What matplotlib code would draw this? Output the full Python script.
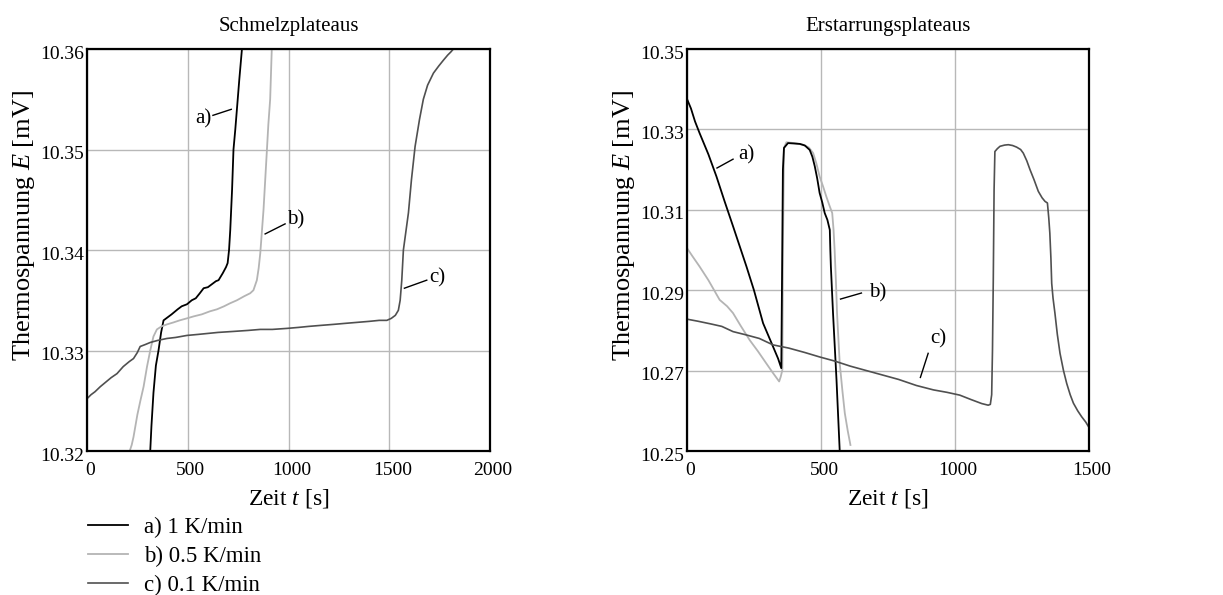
import matplotlib
matplotlib.use("Agg")
import matplotlib.pyplot as plt
import matplotlib.transforms as mtransforms

# ---- data ----
# Schmelzplateaus (melting)
melt_a_t = [314, 320, 330, 342, 355, 368, 380, 400, 420, 450, 470, 496, 520, 540, 560, 579, 600, 620,
            640, 653, 674, 690, 698, 705, 711, 720, 727, 736, 744, 756, 769]
melt_a_E = [10.3200, 10.3225, 10.3258, 10.3285, 10.3300, 10.3318, 10.3330, 10.3333, 10.3336, 10.3341,
            10.3344, 10.3346, 10.3350, 10.3352, 10.3357, 10.3362, 10.3363, 10.3366, 10.3369, 10.3370,
            10.3377, 10.3383, 10.3387, 10.3400, 10.3420, 10.3460, 10.3500, 10.3520, 10.3540, 10.3570,
            10.3600]

melt_b_t = [212, 222, 231, 250, 265, 281, 298, 314, 330, 347, 370, 397, 430, 460, 496, 530, 570, 610,
            645, 680, 710, 744, 780, 810, 826, 843, 852, 860, 876, 893, 900, 909, 917]
melt_b_E = [10.3200, 10.3206, 10.3214, 10.3236, 10.3250, 10.3264, 10.3284, 10.3300, 10.3314, 10.3321,
            10.3324, 10.3326, 10.3328, 10.3330, 10.3332, 10.3334, 10.3336, 10.3339, 10.3341, 10.3344,
            10.3347, 10.3350, 10.3354, 10.3357, 10.3360, 10.3370, 10.3382, 10.3397, 10.3440, 10.3500,
            10.3525, 10.3550, 10.3600]

melt_c_t = [0, 20, 40, 66, 90, 120, 149, 180, 210, 231, 250, 264, 290, 314, 350, 397, 440, 496, 550,
            600, 650, 727, 800, 860, 920, 992, 1050, 1100, 1160, 1223, 1280, 1340, 1400, 1450, 1488,
            1510, 1530, 1545, 1554, 1562, 1570, 1595, 1610, 1628, 1650, 1669, 1690, 1719, 1745, 1769,
            1790, 1805, 1818]
melt_c_E = [10.3252, 10.3256, 10.3259, 10.3264, 10.3268, 10.3273, 10.3277, 10.3284, 10.3289, 10.3292,
            10.3298, 10.3304, 10.3306, 10.3308, 10.3310, 10.3312, 10.3313, 10.3315, 10.3316, 10.3317,
            10.3318, 10.3319, 10.3320, 10.3321, 10.3321, 10.3322, 10.3323, 10.3324, 10.3325, 10.3326,
            10.3327, 10.3328, 10.3329, 10.3330, 10.3330, 10.3332, 10.3335, 10.3340, 10.3350, 10.3370,
            10.3400, 10.3437, 10.3470, 10.3503, 10.3530, 10.3550, 10.3564, 10.3576, 10.3583, 10.3589,
            10.3594, 10.3597, 10.3600]

# Erstarrungsplateaus (freezing)
frz_a_t = [0, 15, 30, 47, 80, 110, 140, 172, 200, 222, 250, 284, 321, 340, 352, 355, 358, 362, 377,
           400, 421, 440, 458, 468, 477, 486, 495, 505, 514, 524, 533, 535, 537, 545, 558, 570]
frz_a_E = [10.3376, 10.3352, 10.3320, 10.3291, 10.3238, 10.3183, 10.3122, 10.3059, 10.3003, 10.2959,
           10.2900, 10.2818, 10.2760, 10.2730, 10.2706, 10.2950, 10.3200, 10.3254, 10.3266, 10.3265,
           10.3264, 10.3260, 10.3249, 10.3232, 10.3208, 10.3178, 10.3142, 10.3118, 10.3092, 10.3075,
           10.3050, 10.3000, 10.2959, 10.2843, 10.2677, 10.2500]

frz_b_t = [0, 20, 47, 80, 122, 150, 172, 200, 234, 265, 296, 320, 344, 350, 356, 358, 362, 371, 400,
           433, 455, 471, 483, 495, 508, 520, 531, 542, 547, 551, 556, 560, 565, 570, 580, 589, 600, 610]
frz_b_E = [10.3005, 10.2985, 10.2959, 10.2925, 10.2876, 10.2860, 10.2843, 10.2812, 10.2776, 10.2748,
           10.2718, 10.2695, 10.2673, 10.2685, 10.2702, 10.3000, 10.3254, 10.3268, 10.3266, 10.3262,
           10.3255, 10.3241, 10.3215, 10.3183, 10.3158, 10.3133, 10.3112, 10.3092, 10.3050, 10.3000,
           10.2920, 10.2843, 10.2780, 10.2718, 10.2650, 10.2594, 10.2550, 10.2515]

frz_c_t = [0, 40, 90, 130, 172, 220, 270, 321, 380, 440, 495, 550, 610, 670, 730, 790, 856, 920, 970,
           1018, 1060, 1100, 1124, 1132, 1137, 1140, 1143, 1146, 1149, 1158, 1168, 1185, 1199, 1215,
           1230, 1245, 1255, 1268, 1280, 1295, 1311, 1325, 1336, 1345, 1350, 1354, 1358, 1361, 1366,
           1373, 1382, 1392, 1405, 1417, 1430, 1442, 1458, 1473, 1488, 1498]
frz_c_E = [10.2828, 10.2823, 10.2816, 10.2810, 10.2797, 10.2789, 10.2780, 10.2764, 10.2756, 10.2745,
           10.2734, 10.2724, 10.2711, 10.2700, 10.2689, 10.2678, 10.2663, 10.2652, 10.2646, 10.2639,
           10.2628, 10.2618, 10.2614, 10.2616, 10.2640, 10.2750, 10.2926, 10.3150, 10.3245, 10.3252,
           10.3258, 10.3261, 10.3262, 10.3260, 10.3256, 10.3250, 10.3241, 10.3222, 10.3200, 10.3175,
           10.3146, 10.3130, 10.3121, 10.3117, 10.3080, 10.3042, 10.2980, 10.2917, 10.2880, 10.2843,
           10.2790, 10.2743, 10.2700, 10.2668, 10.2640, 10.2619, 10.2600, 10.2585, 10.2572, 10.2561]

legend_labels = ["a) 1 K/min", "b) 0.5 K/min", "c) 0.1 K/min"]
melt_xticks = [0, 500, 1000, 1500, 2000]
melt_yticks = [10.32, 10.33, 10.34, 10.35, 10.36]
frz_xticks = [0, 500, 1000, 1500]
frz_yticks = [10.25, 10.27, 10.29, 10.31, 10.33, 10.35]

# ---- style ----
plt.rcParams['font.family'] = ['Liberation Serif', 'DejaVu Serif']
plt.rcParams['mathtext.fontset'] = 'custom'
plt.rcParams['mathtext.rm'] = 'Liberation Serif'
plt.rcParams['mathtext.it'] = 'Liberation Serif:italic'

col_a = '#000000'
col_b = '#b4b4b4'
col_c = '#505050'
grid_col = '#b8b8b8'

fig = plt.figure(figsize=(12.23, 5.95), dpi=100)
ax1 = fig.add_axes([0.0711, 0.242, 0.3296, 0.6756])
ax2 = fig.add_axes([0.5617, 0.242, 0.3287, 0.6756])


def style_axes(ax, xticks, yticks, title):
    ax.set_xticks(xticks)
    ax.set_yticks(yticks)
    ax.set_xticklabels([str(v) for v in xticks])
    ax.set_yticklabels(['%.2f' % v for v in yticks])
    ax.set_xlim(xticks[0], xticks[-1])
    ax.set_ylim(yticks[0], yticks[-1])
    ax.grid(True, color=grid_col, linewidth=1)
    ax.set_axisbelow(True)
    ax.tick_params(length=0, labelsize=14)
    ax.tick_params(axis='x', pad=8)
    ax.tick_params(axis='y', pad=2)
    # the original labels sit slightly right / below their ticks
    dx = mtransforms.ScaledTranslation(3 / 100, 0, fig.dpi_scale_trans)
    dy = mtransforms.ScaledTranslation(0, -3 / 100, fig.dpi_scale_trans)
    for lab in ax.get_xticklabels():
        lab.set_transform(lab.get_transform() + dx)
    for lab in ax.get_yticklabels():
        lab.set_transform(lab.get_transform() + dy)
    for s in ax.spines.values():
        s.set_linewidth(1.6)
    ax.set_title(title, fontsize=15, pad=13)
    ax.set_xlabel(r'Zeit $t$ [s]', fontsize=17, labelpad=6)
    ax.set_ylabel(r'Thermospannung $E$ [mV]', fontsize=19)
    ax.yaxis.set_label_coords(-0.125, 0.56)


l1, = ax1.plot(melt_a_t, melt_a_E, color=col_a, lw=1.3)
l2, = ax1.plot(melt_b_t, melt_b_E, color=col_b, lw=1.3)
l3, = ax1.plot(melt_c_t, melt_c_E, color=col_c, lw=1.2)
style_axes(ax1, melt_xticks, melt_yticks, 'Schmelzplateaus')

ax2.plot(frz_b_t, frz_b_E, color=col_b, lw=1.3)
ax2.plot(frz_a_t, frz_a_E, color=col_a, lw=1.3)
ax2.plot(frz_c_t, frz_c_E, color=col_c, lw=1.2)
style_axes(ax2, frz_xticks, frz_yticks, 'Erstarrungsplateaus')

# curve labels with leader lines
def tag(ax, txt, tx, ty, x0, y0, x1, y1):
    ax.plot([x0, x1], [y0, y1], color='black', lw=1)
    ax.text(tx, ty, txt, fontsize=15, ha='left', va='center')

tag(ax1, 'a)', 535, 10.3531, 625, 10.3534, 716, 10.3540)
tag(ax1, 'b)', 995, 10.3430, 884, 10.3416, 983, 10.3426)
tag(ax1, 'c)', 1700, 10.3372, 1575, 10.3362, 1686, 10.3370)

tag(ax2, 'a)', 190, 10.3237, 112, 10.3204, 172, 10.3226)
tag(ax2, 'b)', 680, 10.2893, 573, 10.2878, 651, 10.2893)
tag(ax2, 'c)', 906, 10.2780, 871, 10.2683, 900, 10.2743)

fig.legend([l1, l2, l3], legend_labels, loc='upper left', bbox_to_anchor=(0.0717, 0.131),
           frameon=False, fontsize=16.5, handlelength=1.75, handletextpad=0.7,
           labelspacing=0.33, borderaxespad=0, borderpad=0)

fig.savefig('out.png', dpi=100)
